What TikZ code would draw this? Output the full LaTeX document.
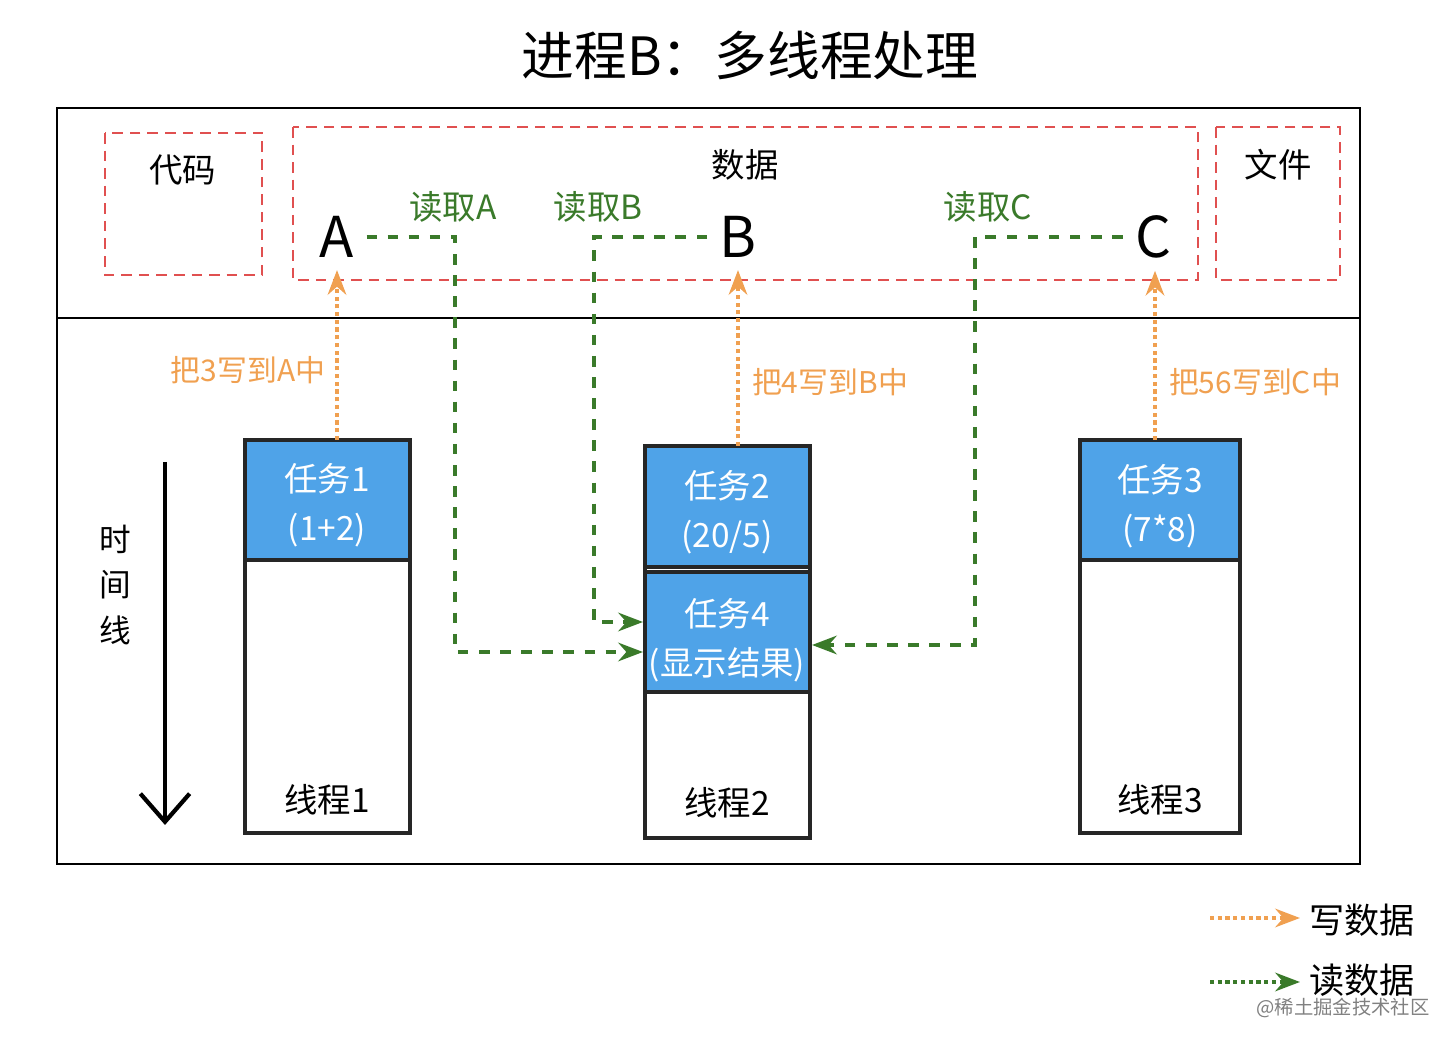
\documentclass[tikz,border=0pt]{standalone}
\usepackage{fontspec}
\setmainfont{Noto Sans CJK SC}
\usetikzlibrary{arrows.meta,positioning}
\definecolor{wrt}{HTML}{F0A050}
\definecolor{rd}{HTML}{3A7A2A}
\definecolor{tsk}{HTML}{4FA3E8}
\definecolor{box}{HTML}{E05050}
\tikzset{
  region/.style={draw=box,densely dashed,thick},
  thread/.style={draw=black!85,very thick,fill=white},
  task/.style={fill=tsk,draw=black!85,very thick},
  wline/.style={wrt,densely dotted,very thick,-{Stealth[length=7pt,open]}},
  rline/.style={rd,dashed,very thick,-{Stealth[length=7pt,open]}},
  var/.style={font=\fontsize{16}{16}\selectfont},
  tt/.style={white,font=\fontsize{9.5}{14}\selectfont,align=center}
}
\begin{document}
\begin{tikzpicture}[x=0.01cm,y=-0.01cm]
   \useasboundingbox (0,0) rectangle (1450,1040);
   \node[font=\fontsize{15}{15}\selectfont] (title) at (750,55) {进程B：多线程处理};
   % process box
   \draw[thick] (57,108) rectangle (1360,864);
   \draw[thick] (57,318) -- (1360,318);

   % memory regions
   \draw[region] (105,133) rectangle (262,275);
   \node[font=\fontsize{9.5}{10}\selectfont] at (183,170) {代码};
   \draw[region] (293,127) rectangle (1198,280);
   \node[font=\fontsize{9.5}{10}\selectfont] at (745,165) {数据};
   \draw[region] (1216,127) rectangle (1340,280);
   \node[font=\fontsize{9.5}{10}\selectfont] at (1278,165) {文件};

   \node[var] (A) at (337,237) {A};
   \node[var] (B) at (738,237) {B};
   \node[var] (C) at (1153,237) {C};

   % threads
   \draw[thread] (245,440) rectangle (410,833);
   \draw[task] (245,440) rectangle (410,560);
   \node[tt] (t1) at (327,505) {任务1\\(1+2)};
   \node[font=\fontsize{9.5}{10}\selectfont] at (327,800) {线程1};
   \coordinate (T1) at (337,440);

   \draw[thread] (645,446) rectangle (810,838);
   \draw[task] (645,446) rectangle (810,567);
   \draw[task] (645,572) rectangle (810,692);
   \node[tt] (t2) at (727,512) {任务2\\(20/5)};
   \node[tt] (t4) at (727,640) {任务4\\(显示结果)};
   \node[font=\fontsize{9.5}{10}\selectfont] at (727,803) {线程2};
   \coordinate (T2) at (738,446);

   \draw[thread] (1080,440) rectangle (1240,833);
   \draw[task] (1080,440) rectangle (1240,560);
   \node[tt] (t3) at (1160,506) {任务3\\(7*8)};
   \node[font=\fontsize{9.5}{10}\selectfont] at (1160,800) {线程3};
   \coordinate (T3) at (1155,440);

   % writes
   \draw[wline] (T1) -- (A.south);
   \node[wrt,font=\fontsize{8.5}{9}\selectfont] at (248,370) {把3写到A中};
   \draw[wline] (T2) -- (B.south);
   \node[wrt,font=\fontsize{8.5}{9}\selectfont] at (830,382) {把4写到B中};
   \draw[wline] (T3) -- (C.south -| T3);
   \node[wrt,font=\fontsize{8.5}{9}\selectfont] at (1255,382) {把56写到C中};

   % reads
   \coordinate (in1) at (643,652);
   \coordinate (in2) at (643,622);
   \coordinate (in3) at (812,645);
   \draw[rline] (A.east) -| (455,652) -- (in1);
   \node[rd,font=\fontsize{9.5}{10}\selectfont] at (453,207) {读取A};
   \draw[rline] (B.west) -| (594,622) -- (in2);
   \node[rd,font=\fontsize{9.5}{10}\selectfont] at (598,207) {读取B};
   \draw[rline] (C.west) -| (975,645) -- (in3);
   \node[rd,font=\fontsize{9.5}{10}\selectfont] at (988,207) {读取C};

   % time line
   \coordinate (ts) at (165,462);
   \coordinate (te) at (165,825);
   \draw[very thick,-{Straight Barb[length=8pt,width=14pt]}] (ts) -- (te);
   \node[font=\fontsize{9}{13}\selectfont,align=center] at (115,585) {时\\间\\线};

   % legend
   \coordinate (l1) at (1210,918);
   \coordinate (l2) at (1300,918);
   \coordinate (l3) at (1210,982);
   \coordinate (l4) at (1300,982);
   \draw[wline] (l1) -- (l2);
   \node[font=\fontsize{10}{10}\selectfont] at (1362,920) {写数据};
   \draw[rd,densely dotted,very thick,-{Stealth[length=7pt,open]}] (l3) -- (l4);
   \node[font=\fontsize{10}{10}\selectfont] at (1362,980) {读数据};
   \node[gray,font=\fontsize{5.5}{6}\selectfont] at (1343,1008) {@稀土掘金技术社区};
\end{tikzpicture}
\end{document}
